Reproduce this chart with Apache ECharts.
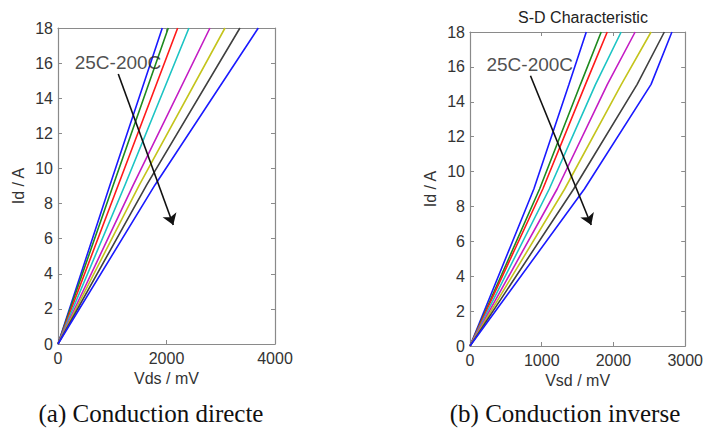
<!DOCTYPE html>
<html>
<head>
<meta charset="utf-8">
<script src="https://cdn.jsdelivr.net/npm/echarts@6/dist/echarts.min.js"></script>
<style>
html,body{margin:0;padding:0;background:#fff;}
#c{width:706px;height:430px;}
</style>
</head>
<body>
<div id="c"></div>
<script>
// ---- data ----
const lineColors = ['#1a1aff', '#1e8a1e', '#ff1a1a', '#1cc4c4', '#c41cc4', '#c4c41c', '#404040', '#1a1aff'];

// (a) Conduction directe : Id (A) vs Vds (mV)
const directCurrent = [0, 9.06, 18];
const directVds = [
  [0, 958, 1922],
  [0, 1019, 2033],
  [0, 1111, 2206],
  [0, 1235, 2414],
  [0, 1388, 2801],
  [0, 1500, 3078],
  [0, 1635, 3354],
  [0, 1788, 3692]
];

// (b) Conduction inverse : Id (A) vs Vsd (mV)
const inverseCurrent = [0, 9, 15, 18];
const inverseVsd = [
  [0, 890, 1380, 1621],
  [0, 970, 1540, 1829],
  [0, 1015, 1610, 1913],
  [0, 1105, 1750, 2107],
  [0, 1215, 1915, 2302],
  [0, 1320, 2110, 2524],
  [0, 1445, 2330, 2709],
  [0, 1595, 2524, 2815]
];

const directXTicks = [0, 2000, 4000];
const inverseXTicks = [0, 1000, 2000, 3000];
const yTicks = [0, 2, 4, 6, 8, 10, 12, 14, 16, 18];

const annotationText = '25C-200C';
const directArrow = [[1111, 15.38], [2125, 6.78]];
const directLabelAt = [1106, 16.06];
const inverseArrow = [[843, 15.49], [1690, 6.94]];
const inverseLabelAt = [833, 16.12];

const titleText = 'S-D Characteristic';
const captions = ['(a) Conduction directe', '(b) Conduction inverse'];
const xNames = ['Vds / mV', 'Vsd / mV'];
const yName = 'Id / A';

// ---- chart ----
const FONT = 'Liberation Sans, Arial, sans-serif';
const axisGray = '#8a8a8a';
const labelColor = '#333';
const plain = function (v) { return String(v); };

function xAxisPair(gridIndex, ticks, name, gap) {
  const max = ticks[ticks.length - 1];
  const interval = ticks[1] - ticks[0];
  const common = {
    type: 'value', gridIndex: gridIndex, min: ticks[0], max: max, interval: interval,
    splitLine: { show: false },
    axisLine: { show: true, onZero: false, lineStyle: { color: axisGray, width: 1.2 } },
    axisTick: { show: true, inside: true, length: 4, lineStyle: { color: axisGray } }
  };
  return [
    Object.assign({}, common, {
      position: 'bottom',
      name: name, nameLocation: 'middle', nameGap: gap,
      nameTextStyle: { fontFamily: FONT, fontSize: 16, color: labelColor },
      axisLabel: { show: true, margin: 6, fontFamily: FONT, fontSize: 16, color: labelColor, formatter: plain }
    }),
    Object.assign({}, common, { position: 'top', axisLabel: { show: false } })
  ];
}
function yAxisPair(gridIndex, gap) {
  const common = {
    type: 'value', gridIndex: gridIndex, min: yTicks[0], max: yTicks[yTicks.length - 1],
    interval: yTicks[1] - yTicks[0],
    splitLine: { show: false },
    axisLine: { show: true, onZero: false, lineStyle: { color: axisGray, width: 1.2 } },
    axisTick: { show: true, inside: true, length: 4, lineStyle: { color: axisGray } }
  };
  return [
    Object.assign({}, common, {
      position: 'left',
      name: yName, nameLocation: 'middle', nameGap: gap,
      nameTextStyle: { fontFamily: FONT, fontSize: 16, color: labelColor },
      axisLabel: { show: true, margin: 5, fontFamily: FONT, fontSize: 16, color: labelColor, formatter: plain }
    }),
    Object.assign({}, common, { position: 'right', axisLabel: { show: false } })
  ];
}

const series = [];
function addCurves(vArrays, current, axisIdx) {
  vArrays.forEach(function (vs, i) {
    series.push({
      type: 'line', xAxisIndex: axisIdx, yAxisIndex: axisIdx,
      data: vs.map(function (v, k) { return [v, current[k]]; }),
      showSymbol: false, symbol: 'none', smooth: false, silent: true,
      lineStyle: { color: lineColors[i], width: 1.6 },
      z: 2
    });
  });
}
function addAnnotation(arrow, labelAt, axisIdx) {
  series.push({
    type: 'scatter', xAxisIndex: axisIdx, yAxisIndex: axisIdx,
    data: [labelAt], symbolSize: 0, silent: true, z: 5,
    label: {
      show: true, position: 'inside', formatter: annotationText,
      fontFamily: FONT, fontSize: 19, color: '#222'
    },
    markLine: {
      silent: true, animation: false,
      symbol: ['none', 'arrow'], symbolSize: 11,
      label: { show: false },
      lineStyle: { color: '#111', width: 1.6, type: 'solid' },
      data: [[{ coord: arrow[0] }, { coord: arrow[1] }]]
    }
  });
}
addCurves(directVds, directCurrent, 0);
addCurves(inverseVsd, inverseCurrent, 2);
addAnnotation(directArrow, directLabelAt, 0);
addAnnotation(inverseArrow, inverseLabelAt, 2);

const xa = xAxisPair(0, directXTicks, xNames[0], 22);
const xb = xAxisPair(1, inverseXTicks, xNames[1], 23);
const ya = yAxisPair(0, 32);
const yb = yAxisPair(1, 32);

const chart = echarts.init(document.getElementById('c'), null, { renderer: 'svg' });
chart.setOption({
  animation: false,
  backgroundColor: '#ffffff',
  title: {
    text: titleText, left: 578, top: 4, textAlign: 'center',
    textStyle: { fontFamily: FONT, fontSize: 16, fontWeight: 'normal', color: '#222' }
  },
  grid: [
    { left: 58, right: 431, top: 28, bottom: 86 },
    { left: 470, right: 20, top: 32, bottom: 84 }
  ],
  // axis order: 0 a-bottom, 1 a-top, 2 b-bottom, 3 b-top  (same for y)
  xAxis: [xa[0], xa[1], xb[0], xb[1]],
  yAxis: [ya[0], ya[1], yb[0], yb[1]],
  series: series,
  graphic: [
    { type: 'text', x: 151, y: 413, style: { text: captions[0], font: '25px "Liberation Serif", serif', fill: '#111', textAlign: 'center', textVerticalAlign: 'middle' } },
    { type: 'text', x: 565, y: 413, style: { text: captions[1], font: '25px "Liberation Serif", serif', fill: '#111', textAlign: 'center', textVerticalAlign: 'middle' } }
  ]
});
</script>
</body>
</html>
